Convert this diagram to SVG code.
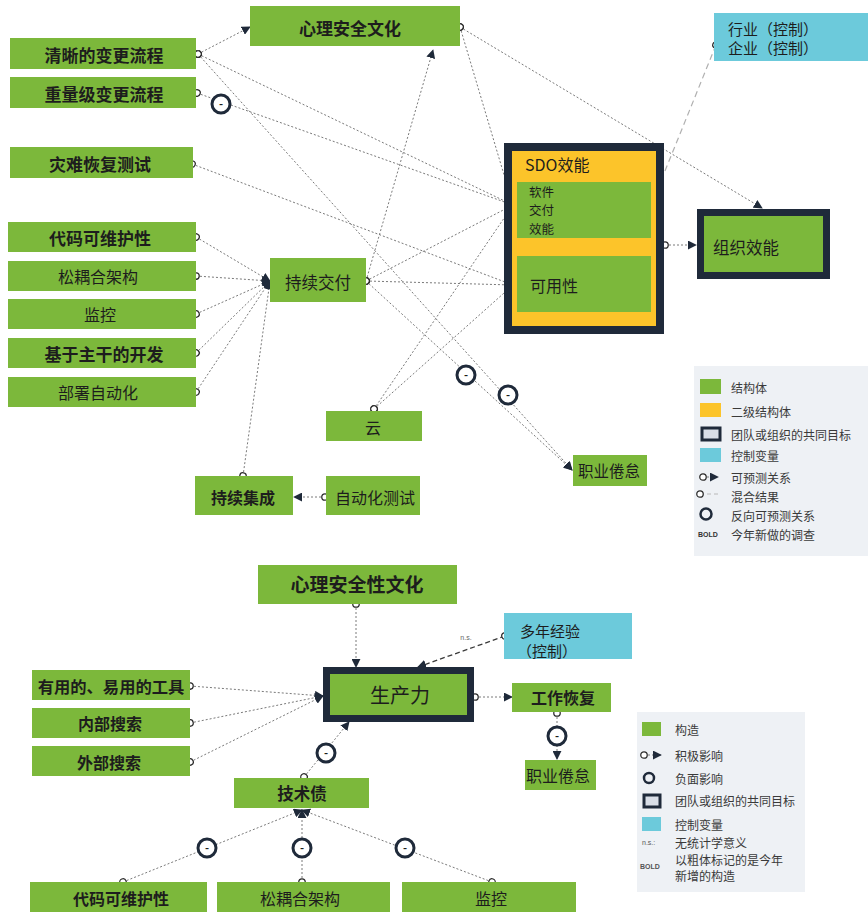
<svg xmlns="http://www.w3.org/2000/svg" xmlns:xlink="http://www.w3.org/1999/xlink" width="868" height="912" viewBox="0 0 868 912">
<style>
.n{fill:#7cb83b}
.d{fill:#1f2a3a}
.y{fill:#fcc42a}
.cy{fill:#6ccadb}
.t{font-family:"Noto Sans CJK SC","Noto Sans",sans-serif;fill:#1d1d1d;text-anchor:middle;dominant-baseline:central;font-size:16px}
.l{text-anchor:start}
.b{font-weight:bold}
.lg{font-family:"Noto Sans CJK SC","Noto Sans",sans-serif;fill:#3a3a3a;dominant-baseline:central;font-size:12px}
.c{stroke:#7a7a7a;stroke-width:1;stroke-dasharray:2 2;fill:none;marker-start:url(#o);marker-end:url(#a)}
.k{stroke:#b0b0b0;stroke-width:1.2;stroke-dasharray:6 4;fill:none;marker-start:url(#o);marker-end:url(#a)}
.k2{stroke:#3a3a3a;stroke-width:1.3;stroke-dasharray:5 3;fill:none;marker-start:url(#o);marker-end:url(#a)}
.ring{fill:#fff;stroke:#1f2a3a;stroke-width:3}
</style>
<defs>
<marker id="a" viewBox="0 0 10 10" refX="9" refY="5" markerWidth="9" markerHeight="9" markerUnits="userSpaceOnUse" orient="auto"><path d="M0,0 L10,5 L0,10 z" fill="#1f2a3a"/></marker>
<marker id="o" viewBox="0 0 10 10" refX="5" refY="5" markerWidth="9" markerHeight="9" markerUnits="userSpaceOnUse" orient="auto"><circle cx="5" cy="5" r="3.6" fill="#fff" stroke="#2a2a2a" stroke-width="1.4"/></marker>
<g id="neg"><circle r="9" class="ring"/><text class="t b" style="font-size:11px" y="-1">-</text></g>
</defs>

<!-- connectors -->
<g id="connectors">
<path class="c" d="M198,54 L250,27"/>
<path class="c" d="M198,54 L513,205"/>
<path class="c" d="M198,54 L572,470"/>
<path class="c" d="M197,93 L513,205"/>
<path class="c" d="M192,164 L513,285"/>
<path class="c" d="M460,27 L513,205"/>
<path class="c" d="M460,27 L762,208"/>
<path class="c" d="M366,281 L433,50"/>
<path class="c" d="M366,281 L513,205"/>
<path class="c" d="M366,281 L513,285"/>
<path class="c" d="M366,281 L572,470"/>
<path class="c" d="M374,409 L513,205"/>
<path class="c" d="M374,409 L513,285"/>
<path class="c" d="M196,237 L270,281"/>
<path class="c" d="M196,276 L270,281"/>
<path class="c" d="M196,314 L270,281"/>
<path class="c" d="M196,353 L270,281"/>
<path class="c" d="M196,392 L270,281"/>
<path class="c" d="M243,476 L270,281"/>
<path class="c" d="M325,497 L294,497"/>
<path class="c" d="M665,245 L696,245"/>
<path class="k" d="M716,45 L652,203"/>
<use xlink:href="#neg" x="221" y="104"/>
<use xlink:href="#neg" x="466" y="375"/>
<use xlink:href="#neg" x="508" y="395"/>

<path class="c" d="M356,604 L356,667"/>
<path class="k2" d="M505,636 L418,667"/>
<path class="c" d="M190,686 L323,696"/>
<path class="c" d="M190,723 L323,696"/>
<path class="c" d="M190,762 L323,696"/>
<path class="c" d="M304,777 L349,722"/>
<path class="c" d="M475,697 L512,697"/>
<path class="c" d="M557,713 L557,759"/>
<path class="c" d="M123,882 L302,810"/>
<path class="c" d="M302,882 L302,810"/>
<path class="c" d="M492,882 L302,810"/>
<use xlink:href="#neg" x="326" y="753"/>
<use xlink:href="#neg" x="557" y="736"/>
<use xlink:href="#neg" x="207" y="848"/>
<use xlink:href="#neg" x="302" y="848"/>
<use xlink:href="#neg" x="405" y="848"/>
<text x="466" y="640" style="font-family:'Liberation Sans',sans-serif;font-size:7px;fill:#666;text-anchor:middle">n.s.</text>
</g>

<!-- top diagram nodes -->
<g id="psych-culture"><rect class="n" x="250" y="6" width="210" height="40"/><text class="t b" x="350" y="27" style="font-size:17px">心理安全文化</text></g>
<g id="clear-change"><rect class="n" x="10" y="38" width="186" height="31"/><text class="t b" x="104" y="54" style="font-size:17px">清晰的变更流程</text></g>
<g id="heavy-change"><rect class="n" x="10" y="77" width="186" height="31"/><text class="t b" x="104" y="93" style="font-size:17px">重量级变更流程</text></g>
<g id="dr-test"><rect class="n" x="10" y="147" width="183" height="31"/><text class="t b" x="100" y="163" style="font-size:17px">灾难恢复测试</text></g>
<g id="code-maint"><rect class="n" x="8" y="222" width="188" height="30"/><text class="t b" x="100" y="237" style="font-size:17px">代码可维护性</text></g>
<g id="loose-arch"><rect class="n" x="8" y="261" width="188" height="30"/><text class="t" x="98" y="276">松耦合架构</text></g>
<g id="monitoring"><rect class="n" x="8" y="299" width="188" height="30"/><text class="t" x="100" y="314">监控</text></g>
<g id="trunk"><rect class="n" x="8" y="338" width="188" height="30"/><text class="t b" x="104" y="353" style="font-size:17px">基于主干的开发</text></g>
<g id="deploy-auto"><rect class="n" x="8" y="377" width="188" height="30"/><text class="t" x="98" y="392">部署自动化</text></g>
<g id="cd"><rect class="n" x="270" y="258" width="96" height="44"/><text class="t" x="318" y="282" style="font-size:16.5px">持续交付</text></g>
<g id="cloud"><rect class="n" x="326" y="411" width="96" height="30"/><text class="t" x="373" y="427">云</text></g>
<g id="ci"><rect class="n" x="195" y="476" width="98" height="39"/><text class="t b" x="243" y="497">持续集成</text></g>
<g id="auto-test"><rect class="n" x="326" y="476" width="94" height="39"/><text class="t" x="375" y="497">自动化测试</text></g>
<g id="burnout-top"><rect class="n" x="573" y="455" width="74" height="31"/><text class="t" x="609" y="470" style="font-size:15.5px">职业倦怠</text></g>
<g id="sdo">
<rect class="d" x="504" y="143" width="160" height="191"/>
<rect class="y" x="512" y="151" width="144" height="175"/>
<text class="t l" x="525" y="164">SDO效能</text>
<rect class="n" x="517" y="182" width="134" height="56"/>
<text class="t l" x="529" y="191" style="font-size:12.5px">软件</text>
<text class="t l" x="529" y="209.5" style="font-size:12.5px">交付</text>
<text class="t l" x="529" y="228" style="font-size:12.5px">效能</text>
<rect class="n" x="517" y="256" width="134" height="56"/>
<text class="t l" x="530" y="285">可用性</text>
</g>
<g id="org-perf"><rect class="d" x="697" y="209" width="133" height="70"/><rect class="n" x="704" y="216" width="119" height="56"/><text class="t l" x="713" y="247" style="font-size:16.5px">组织效能</text></g>
<g id="industry"><rect class="cy" x="714" y="13" width="154" height="48"/><text class="t l" x="728" y="28" style="font-size:15px">行业（控制）</text><text class="t l" x="728" y="47" style="font-size:15px">企业（控制）</text></g>

<!-- top legend -->
<g id="legend-top">
<rect x="694" y="366" width="174" height="190" fill="#eef1f5"/>
<rect class="n" x="700" y="379" width="21" height="15"/><text class="lg" x="731" y="387">结构体</text>
<rect class="y" x="700" y="403" width="21" height="14"/><text class="lg" x="731" y="411">二级结构体</text>
<rect x="702" y="428" width="18" height="12" fill="#d9dee7" stroke="#1f2a3a" stroke-width="3"/><text class="lg" x="731" y="434">团队或组织的共同目标</text>
<rect class="cy" x="700" y="448" width="21" height="14"/><text class="lg" x="731" y="455">控制变量</text>
<path class="c" d="M703,477 L718,477"/><text class="lg" x="731" y="477">可预测关系</text>
<path d="M700,494 L720,494" stroke="#b8b8b8" stroke-width="1" stroke-dasharray="4 3" fill="none" marker-start="url(#o)"/><text class="lg" x="731" y="496">混合结果</text>
<circle cx="706" cy="514" r="5.5" fill="none" stroke="#1f2a3a" stroke-width="2.5"/><text class="lg" x="731" y="515">反向可预测关系</text>
<text x="698" y="534" style="font-family:'Liberation Sans',sans-serif;font-size:7px;font-weight:bold;fill:#333;dominant-baseline:central">BOLD</text><text class="lg" x="731" y="534">今年新做的调查</text>
</g>

<!-- bottom diagram nodes -->
<g id="psych-culture-2"><rect class="n" x="258" y="565" width="199" height="39"/><text class="t b" x="357" y="583" style="font-size:19px">心理安全性文化</text></g>
<g id="productivity"><rect class="d" x="323" y="667" width="151" height="55"/><rect class="n" x="330" y="674" width="137" height="41"/><text class="t" x="400" y="694" style="font-size:20px">生产力</text></g>
<g id="experience"><rect class="cy" x="504" y="613" width="128" height="46"/><text class="t" x="550" y="630" style="font-size:15px">多年经验</text><text class="t" x="547" y="650" style="font-size:15px">（控制）</text></g>
<g id="tools"><rect class="n" x="32" y="670" width="158" height="30"/><text class="t b" x="111" y="686" style="font-size:16.3px">有用的、易用的工具</text></g>
<g id="internal-search"><rect class="n" x="32" y="708" width="158" height="30"/><text class="t b" x="110" y="723">内部搜索</text></g>
<g id="external-search"><rect class="n" x="32" y="746" width="158" height="30"/><text class="t b" x="109" y="762">外部搜索</text></g>
<g id="tech-debt"><rect class="n" x="234" y="778" width="135" height="30"/><text class="t b" x="302" y="793" style="font-size:16.5px">技术债</text></g>
<g id="work-recovery"><rect class="n" x="512" y="683" width="99" height="29"/><text class="t b" x="563" y="697">工作恢复</text></g>
<g id="burnout-bottom"><rect class="n" x="525" y="760" width="71" height="30"/><text class="t" x="558" y="775">职业倦怠</text></g>
<g id="code-maint-2"><rect class="n" x="30" y="882" width="177" height="30"/><text class="t b" x="121" y="898">代码可维护性</text></g>
<g id="loose-arch-2"><rect class="n" x="217" y="882" width="173" height="30"/><text class="t" x="300" y="898">松耦合架构</text></g>
<g id="monitoring-2"><rect class="n" x="402" y="882" width="174" height="30"/><text class="t" x="491" y="898">监控</text></g>

<!-- bottom legend -->
<g id="legend-bottom">
<rect x="637" y="712" width="168" height="180" fill="#eef1f5"/>
<rect class="n" x="642" y="722" width="19" height="14"/><text class="lg" x="675" y="729">构造</text>
<path class="c" d="M644,755 L661,755"/><text class="lg" x="675" y="755">积极影响</text>
<circle cx="649" cy="778" r="5" fill="none" stroke="#1f2a3a" stroke-width="2.5"/><text class="lg" x="675" y="778">负面影响</text>
<rect x="644" y="795" width="16" height="12" fill="#d9dee7" stroke="#1f2a3a" stroke-width="3"/><text class="lg" x="675" y="800">团队或组织的共同目标</text>
<rect class="cy" x="642" y="817" width="19" height="14"/><text class="lg" x="675" y="824">控制变量</text>
<text x="642" y="842" style="font-family:'Liberation Sans',sans-serif;font-size:7px;fill:#555;dominant-baseline:central">n.s.:</text><text class="lg" x="675" y="842">无统计学意义</text>
<text x="640" y="866" style="font-family:'Liberation Sans',sans-serif;font-size:7px;font-weight:bold;fill:#555;dominant-baseline:central">BOLD</text><text class="lg" x="675" y="859">以粗体标记的是今年</text><text class="lg" x="675" y="875">新增的构造</text>
</g>
</svg>
